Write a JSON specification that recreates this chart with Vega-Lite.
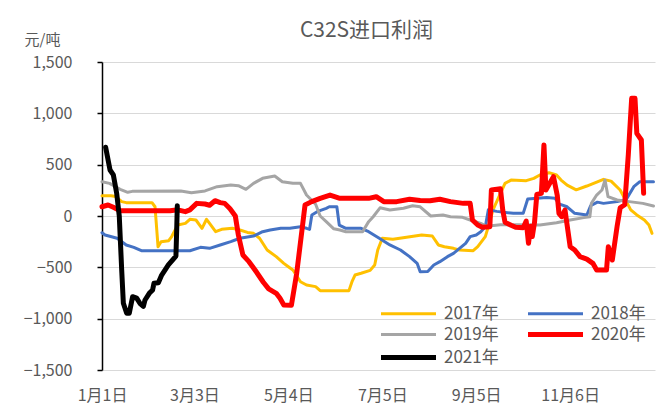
{
  "$schema": "https://vega.github.io/schema/vega-lite/v6.json",
  "width": 553,
  "height": 308,
  "autosize": {"type": "none"},
  "padding": {"left": 102, "top": 62, "right": 10, "bottom": 41},
  "title": {"text": "C32S进口利润", "fontSize": 21, "fontWeight": "normal", "color": "#595959", "anchor": "middle", "dx": -12, "offset": -9, "font": "Noto Sans CJK SC"},
  "config": {
    "font": "Noto Sans CJK SC",
    "view": {"stroke": null},
    "axis": {"labelColor": "#595959", "titleColor": "#595959", "labelFontSize": 16, "titleFontWeight": "normal"},
    "legend": {"orient": "none", "legendX": 298, "legendY": 243, "columns": 2, "symbolType": "M-5,0H5", "symbolSize": 121, "labelFontSize": 17, "labelColor": "#595959", "labelOffset": 27, "columnPadding": 19, "rowPadding": 2, "padding": 0}
  },
  "data": {"values": [
    {"s":"2017年","d":0,"v":198},{"s":"2017年","d":6,"v":198},{"s":"2017年","d":9,"v":190},{"s":"2017年","d":13,"v":140},{"s":"2017年","d":16,"v":130},{"s":"2017年","d":33,"v":130},{"s":"2017年","d":35,"v":90},{"s":"2017年","d":37,"v":-300},{"s":"2017年","d":39,"v":-250},{"s":"2017年","d":44,"v":-240},{"s":"2017年","d":46,"v":-200},{"s":"2017年","d":50,"v":-88},{"s":"2017年","d":55,"v":-72},{"s":"2017年","d":58,"v":-32},{"s":"2017年","d":62,"v":-39},{"s":"2017年","d":66,"v":-120},{"s":"2017年","d":69,"v":-32},{"s":"2017年","d":71,"v":-72},{"s":"2017年","d":75,"v":-153},{"s":"2017年","d":79,"v":-130},{"s":"2017年","d":86,"v":-120},{"s":"2017年","d":91,"v":-136},{"s":"2017年","d":96,"v":-160},{"s":"2017年","d":100,"v":-169},{"s":"2017年","d":104,"v":-217},{"s":"2017年","d":109,"v":-331},{"s":"2017年","d":115,"v":-396},{"s":"2017年","d":120,"v":-461},{"s":"2017年","d":123,"v":-494},{"s":"2017年","d":126,"v":-526},{"s":"2017年","d":131,"v":-640},{"s":"2017年","d":135,"v":-672},{"s":"2017年","d":141,"v":-688},{"s":"2017年","d":144,"v":-727},{"s":"2017年","d":163,"v":-727},{"s":"2017年","d":165,"v":-640},{"s":"2017年","d":167,"v":-575},{"s":"2017年","d":171,"v":-558},{"s":"2017年","d":177,"v":-530},{"s":"2017年","d":180,"v":-477},{"s":"2017年","d":182,"v":-331},{"s":"2017年","d":185,"v":-217},{"s":"2017年","d":192,"v":-227},{"s":"2017年","d":201,"v":-208},{"s":"2017年","d":211,"v":-185},{"s":"2017年","d":218,"v":-195},{"s":"2017年","d":222,"v":-282},{"s":"2017年","d":226,"v":-299},{"s":"2017年","d":232,"v":-315},{"s":"2017年","d":236,"v":-331},{"s":"2017年","d":245,"v":-338},{"s":"2017年","d":248,"v":-299},{"s":"2017年","d":253,"v":-201},{"s":"2017年","d":255,"v":-104},{"s":"2017年","d":258,"v":58},{"s":"2017年","d":262,"v":188},{"s":"2017年","d":266,"v":318},{"s":"2017年","d":270,"v":350},{"s":"2017年","d":280,"v":344},{"s":"2017年","d":285,"v":367},{"s":"2017年","d":289,"v":399},{"s":"2017年","d":295,"v":422},{"s":"2017年","d":300,"v":399},{"s":"2017年","d":303,"v":350},{"s":"2017年","d":307,"v":300},{"s":"2017年","d":313,"v":255},{"s":"2017年","d":320,"v":292},{"s":"2017年","d":331,"v":357},{"s":"2017年","d":336,"v":340},{"s":"2017年","d":342,"v":253},{"s":"2017年","d":345,"v":170},{"s":"2017年","d":349,"v":60},{"s":"2017年","d":353,"v":10},{"s":"2017年","d":358,"v":-39},{"s":"2017年","d":361,"v":-88},{"s":"2017年","d":363,"v":-169},
    {"s":"2018年","d":0,"v":-163},{"s":"2018年","d":2,"v":-185},{"s":"2018年","d":10,"v":-217},{"s":"2018年","d":16,"v":-282},{"s":"2018年","d":21,"v":-305},{"s":"2018年","d":26,"v":-338},{"s":"2018年","d":58,"v":-338},{"s":"2018年","d":65,"v":-305},{"s":"2018年","d":71,"v":-315},{"s":"2018年","d":78,"v":-282},{"s":"2018年","d":85,"v":-250},{"s":"2018年","d":91,"v":-217},{"s":"2018年","d":100,"v":-195},{"s":"2018年","d":106,"v":-153},{"s":"2018年","d":111,"v":-136},{"s":"2018年","d":118,"v":-120},{"s":"2018年","d":124,"v":-120},{"s":"2018年","d":131,"v":-104},{"s":"2018年","d":135,"v":-120},{"s":"2018年","d":137,"v":-130},{"s":"2018年","d":138.5,"v":10},{"s":"2018年","d":142,"v":42},{"s":"2018年","d":148,"v":75},{"s":"2018年","d":150,"v":90},{"s":"2018年","d":155,"v":90},{"s":"2018年","d":156.6,"v":-88},{"s":"2018年","d":161,"v":-120},{"s":"2018年","d":171,"v":-120},{"s":"2018年","d":176,"v":-153},{"s":"2018年","d":183,"v":-217},{"s":"2018年","d":190,"v":-282},{"s":"2018年","d":197,"v":-331},{"s":"2018年","d":203,"v":-396},{"s":"2018年","d":208,"v":-461},{"s":"2018年","d":210,"v":-542},{"s":"2018年","d":215,"v":-540},{"s":"2018年","d":219,"v":-477},{"s":"2018年","d":223,"v":-445},{"s":"2018年","d":228,"v":-396},{"s":"2018年","d":232,"v":-364},{"s":"2018年","d":236,"v":-315},{"s":"2018年","d":240,"v":-266},{"s":"2018年","d":243,"v":-201},{"s":"2018年","d":247,"v":-185},{"s":"2018年","d":250,"v":-153},{"s":"2018年","d":253,"v":-104},{"s":"2018年","d":255,"v":60},{"s":"2018年","d":260.5,"v":45},{"s":"2018年","d":271.5,"v":26},{"s":"2018年","d":278,"v":26},{"s":"2018年","d":281,"v":165},{"s":"2018年","d":293.5,"v":180},{"s":"2018年","d":299,"v":172},{"s":"2018年","d":302,"v":115},{"s":"2018年","d":307,"v":90},{"s":"2018年","d":312,"v":26},{"s":"2018年","d":320,"v":10},{"s":"2018年","d":322.5,"v":100},{"s":"2018年","d":327,"v":135},{"s":"2018年","d":331,"v":123},{"s":"2018年","d":340,"v":140},{"s":"2018年","d":346,"v":160},{"s":"2018年","d":351,"v":286},{"s":"2018年","d":355,"v":334},{"s":"2018年","d":364,"v":334},
    {"s":"2019年","d":0,"v":334},{"s":"2019年","d":5,"v":318},{"s":"2019年","d":12,"v":260},{"s":"2019年","d":17,"v":231},{"s":"2019年","d":20,"v":240},{"s":"2019年","d":52,"v":244},{"s":"2019年","d":59,"v":227},{"s":"2019年","d":68,"v":244},{"s":"2019年","d":76,"v":286},{"s":"2019年","d":85,"v":302},{"s":"2019年","d":90,"v":295},{"s":"2019年","d":95,"v":260},{"s":"2019年","d":100,"v":318},{"s":"2019年","d":106,"v":367},{"s":"2019年","d":114,"v":390},{"s":"2019年","d":119,"v":334},{"s":"2019年","d":126,"v":318},{"s":"2019年","d":131,"v":318},{"s":"2019年","d":135,"v":204},{"s":"2019年","d":141,"v":115},{"s":"2019年","d":144,"v":0},{"s":"2019年","d":148,"v":-55},{"s":"2019年","d":153,"v":-125},{"s":"2019年","d":157,"v":-136},{"s":"2019年","d":161,"v":-153},{"s":"2019年","d":172,"v":-153},{"s":"2019年","d":176,"v":-55},{"s":"2019年","d":179,"v":-7},{"s":"2019年","d":183.5,"v":80},{"s":"2019年","d":190,"v":58},{"s":"2019年","d":199,"v":75},{"s":"2019年","d":205,"v":100},{"s":"2019年","d":210,"v":90},{"s":"2019年","d":217,"v":0},{"s":"2019年","d":225,"v":10},{"s":"2019年","d":230,"v":-7},{"s":"2019年","d":238,"v":-13},{"s":"2019年","d":243,"v":-39},{"s":"2019年","d":250,"v":-72},{"s":"2019年","d":254,"v":-100},{"s":"2019年","d":263,"v":-85},{"s":"2019年","d":274,"v":-85},{"s":"2019年","d":289,"v":-88},{"s":"2019年","d":300,"v":-65},{"s":"2019年","d":309,"v":-39},{"s":"2019年","d":318,"v":-16},{"s":"2019年","d":322,"v":-7},{"s":"2019年","d":323,"v":123},{"s":"2019年","d":326.5,"v":204},{"s":"2019年","d":330,"v":253},{"s":"2019年","d":332,"v":350},{"s":"2019年","d":334,"v":188},{"s":"2019年","d":340,"v":156},{"s":"2019年","d":348,"v":140},{"s":"2019年","d":357,"v":123},{"s":"2019年","d":364,"v":97},
    {"s":"2020年","d":0,"v":90},{"s":"2020年","d":4,"v":107},{"s":"2020年","d":7.5,"v":85},{"s":"2020年","d":12,"v":52},{"s":"2020年","d":45,"v":52},{"s":"2020年","d":50,"v":60},{"s":"2020年","d":55,"v":42},{"s":"2020年","d":58,"v":60},{"s":"2020年","d":62.5,"v":123},{"s":"2020年","d":68,"v":117},{"s":"2020年","d":71,"v":105},{"s":"2020年","d":74.6,"v":149},{"s":"2020年","d":78,"v":130},{"s":"2020年","d":81,"v":123},{"s":"2020年","d":84.5,"v":70},{"s":"2020年","d":88,"v":0},{"s":"2020年","d":90,"v":-185},{"s":"2020年","d":93,"v":-380},{"s":"2020年","d":97,"v":-445},{"s":"2020年","d":101,"v":-526},{"s":"2020年","d":106.5,"v":-645},{"s":"2020年","d":110,"v":-710},{"s":"2020年","d":115,"v":-753},{"s":"2020年","d":117.5,"v":-802},{"s":"2020年","d":120,"v":-867},{"s":"2020年","d":125,"v":-870},{"s":"2020年","d":128.5,"v":-558},{"s":"2020年","d":132,"v":-136},{"s":"2020年","d":134,"v":107},{"s":"2020年","d":138.4,"v":140},{"s":"2020年","d":144,"v":172},{"s":"2020年","d":150.5,"v":204},{"s":"2020年","d":157,"v":172},{"s":"2020年","d":168,"v":172},{"s":"2020年","d":176,"v":172},{"s":"2020年","d":181,"v":188},{"s":"2020年","d":186,"v":140},{"s":"2020年","d":194.5,"v":140},{"s":"2020年","d":203,"v":163},{"s":"2020年","d":210,"v":150},{"s":"2020年","d":216.5,"v":149},{"s":"2020年","d":223,"v":163},{"s":"2020年","d":230,"v":140},{"s":"2020年","d":238.5,"v":123},{"s":"2020年","d":243,"v":123},{"s":"2020年","d":244.5,"v":-39},{"s":"2020年","d":248,"v":-88},{"s":"2020年","d":251,"v":-110},{"s":"2020年","d":256,"v":-104},{"s":"2020年","d":257,"v":253},{"s":"2020年","d":263,"v":265},{"s":"2020年","d":264.5,"v":58},{"s":"2020年","d":266,"v":-60},{"s":"2020年","d":270,"v":-90},{"s":"2020年","d":273,"v":-110},{"s":"2020年","d":278,"v":-115},{"s":"2020年","d":280,"v":-50},{"s":"2020年","d":281.5,"v":-266},{"s":"2020年","d":283,"v":-100},{"s":"2020年","d":284,"v":-200},{"s":"2020年","d":285.5,"v":-60},{"s":"2020年","d":287,"v":210},{"s":"2020年","d":290,"v":221},{"s":"2020年","d":291.7,"v":692},{"s":"2020年","d":293,"v":253},{"s":"2020年","d":296,"v":330},{"s":"2020年","d":298,"v":383},{"s":"2020年","d":300.5,"v":200},{"s":"2020年","d":301.6,"v":26},{"s":"2020年","d":303.4,"v":-7},{"s":"2020年","d":305.6,"v":58},{"s":"2020年","d":309,"v":-299},{"s":"2020年","d":312,"v":-331},{"s":"2020年","d":315.5,"v":-396},{"s":"2020年","d":320,"v":-420},{"s":"2020年","d":324,"v":-461},{"s":"2020年","d":326.5,"v":-526},{"s":"2020年","d":333,"v":-526},{"s":"2020年","d":334.2,"v":-299},{"s":"2020年","d":336.8,"v":-429},{"s":"2020年","d":340,"v":-100},{"s":"2020年","d":342,"v":80},{"s":"2020年","d":345,"v":110},{"s":"2020年","d":347.4,"v":600},{"s":"2020年","d":349.6,"v":1146},{"s":"2020年","d":351.8,"v":1146},{"s":"2020年","d":353,"v":805},{"s":"2020年","d":356,"v":740},{"s":"2020年","d":357.5,"v":221},
    {"s":"2021年","d":2.4,"v":670},{"s":"2021年","d":5.3,"v":448},{"s":"2021年","d":7.5,"v":400},{"s":"2021年","d":9.7,"v":220},{"s":"2021年","d":11.4,"v":0},{"s":"2021年","d":13,"v":-526},{"s":"2021年","d":14.1,"v":-850},{"s":"2021年","d":16.3,"v":-948},{"s":"2021年","d":18,"v":-948},{"s":"2021年","d":20.2,"v":-786},{"s":"2021年","d":22.9,"v":-800},{"s":"2021年","d":25,"v":-850},{"s":"2021年","d":27.3,"v":-880},{"s":"2021年","d":28.4,"v":-818},{"s":"2021年","d":31.2,"v":-753},{"s":"2021年","d":33.4,"v":-720},{"s":"2021年","d":34.3,"v":-655},{"s":"2021年","d":37.2,"v":-650},{"s":"2021年","d":39.4,"v":-575},{"s":"2021年","d":43.8,"v":-477},{"s":"2021年","d":48.8,"v":-390},{"s":"2021年","d":49.3,"v":-136},{"s":"2021年","d":49.7,"v":100}
  ]},
  "mark": {"type": "line", "strokeJoin": "round", "strokeCap": "round"},
  "encoding": {
    "x": {"field": "d", "type": "quantitative",
      "scale": {"domain": [0, 365], "nice": false, "zero": false},
      "axis": {"title": null, "values": [0, 61, 123, 185, 247, 309], "domain": false, "ticks": false, "grid": false, "labelPadding": 17, "labelFlush": false, "labelBound": false,
        "labelExpr": "datum.value == 0 ? '1月1日' : datum.value == 61 ? '3月3日' : datum.value == 123 ? '5月4日' : datum.value == 185 ? '7月5日' : datum.value == 247 ? '9月5日' : '11月6日'"}},
    "y": {"field": "v", "type": "quantitative",
      "scale": {"domain": [-1500, 1500], "nice": false},
      "axis": {"title": "元/吨", "titleAngle": 0, "titleX": -60, "titleY": -23, "titleAlign": "center", "titleBaseline": "middle", "titleFontSize": 15,
        "values": [-1500, -1000, -500, 0, 500, 1000, 1500], "format": ",.0f", "domainColor": "#000000", "domainWidth": 1.5, "tickColor": "#000000", "tickSize": 5, "tickWidth": 1.5, "labelPadding": 25, "gridColor": "#D9D9D9", "gridWidth": 1.2}},
    "color": {"field": "s", "type": "nominal",
      "scale": {"domain": ["2017年", "2019年", "2021年", "2018年", "2020年"], "range": ["#FFC000", "#A5A5A5", "#000000", "#4472C4", "#FF0000"]},
      "legend": {"title": null}},
    "strokeWidth": {"field": "s", "type": "nominal",
      "scale": {"type": "ordinal", "domain": ["2017年", "2019年", "2021年", "2018年", "2020年"], "range": [3, 3, 5, 3, 5]},
      "legend": {"title": null}}
  }
}
